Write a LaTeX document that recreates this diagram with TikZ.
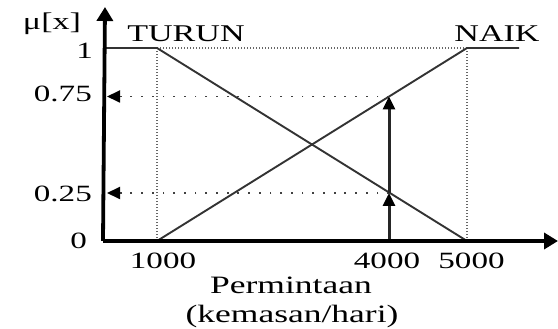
\documentclass[tikz,border=0pt]{standalone}
\usepackage{fontspec}
\setmainfont{Liberation Serif}[FakeStretch=1.42]
\usetikzlibrary{arrows.meta}
\begin{document}
\begin{tikzpicture}[x=1pt,y=-1pt,
  numlbl/.style={font=\fontsize{23.3}{27}\selectfont, inner sep=0pt},
  setlbl/.style={font=\fontsize{24}{28}\selectfont, inner sep=0pt},
  ttl/.style={font=\fontsize{25}{29}\selectfont, inner sep=0pt},
  axisline/.style={line width=3.8pt, black},
  fnline/.style={line width=1.9pt, black!80},
  vdots/.style={line width=1.5pt, black!60, dash pattern=on 1.4pt off 1.6pt},
  hdots/.style={line width=1.8pt, black!75, dash pattern=on 1.8pt off 8.9pt},
  bigtip/.style={-{Triangle[length=14pt,width=16pt,color=black]}},
  smalltip/.style={-{Triangle[length=13pt,width=12pt,color=black]}}]
\useasboundingbox (0,0) rectangle (558,329);
% key points
\coordinate (Ostart) at (103,241);
\coordinate (Ytop) at (105,7);
\coordinate (Xend) at (558,241);
\coordinate (Y1) at (105,48);
\coordinate (A1) at (157,48);
\coordinate (A0) at (157,241);
\coordinate (B1) at (467,48);
\coordinate (B0) at (467,241);
\coordinate (E) at (519,48);
\coordinate (Y75) at (107,96.5);
\coordinate (Y25) at (107,193);
\coordinate (P75) at (389,96.5);
\coordinate (P25) at (389,193);
\coordinate (P0) at (389,241);
% dotted guides
\draw[vdots] (A0) -- (A1);
\draw[vdots] (B0) -- (B1);
\draw[vdots] (A1) -- (B1);
% membership functions
\draw[fnline] (Y1) -- (A1) -- (B0);
\draw[fnline] (A0) -- (B1) -- (E);
% projections
\draw[hdots, smalltip] (P75) -- (Y75);
\draw[hdots, smalltip] (P25) -- (Y25);
\draw[line width=3pt, black!85, smalltip] (P0) -- (P25);
\draw[line width=3pt, black!85, smalltip] (P25) -- (P75);
% axes
\draw[axisline, bigtip] (Ostart) -- (Ytop);
\draw[axisline, bigtip] (Ostart) -- (Xend);
% labels
\node[setlbl, anchor=base] (mu) at (52,30) {μ[x]};
\node[setlbl, anchor=base] (turun) at (186,42) {TURUN};
\node[setlbl, anchor=base] (naik) at (497,42) {NAIK};
\node[numlbl, anchor=base east] (l1) at (93,59) {1};
\node[numlbl, anchor=base east] (l75) at (92,102) {0.75};
\node[numlbl, anchor=base east] (l25) at (92,202) {0.25};
\node[numlbl, anchor=base east] (l0) at (87,248) {0};
\node[numlbl, anchor=base] (x1) at (163,269) {1000};
\node[numlbl, anchor=base] (x4) at (387,269) {4000};
\node[numlbl, anchor=base] (x5) at (471.5,269) {5000};
\node[ttl, anchor=base] (perm) at (291,293) {Permintaan};
\node[ttl, anchor=base] (unit) at (292,322) {(kemasan/hari)};
\end{tikzpicture}
\end{document}
